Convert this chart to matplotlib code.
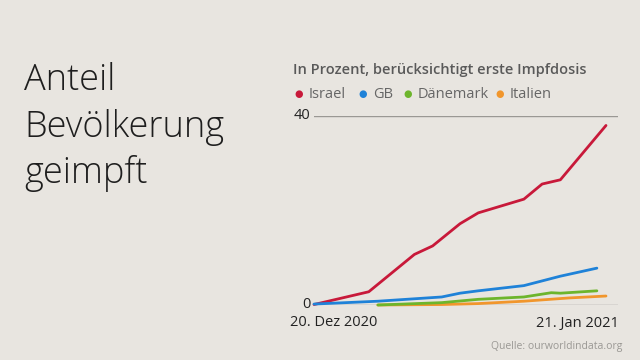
import matplotlib
matplotlib.use("Agg")
import matplotlib.pyplot as plt

# Days since 20 Dec 2020
israel_days = [0, 6, 11, 13, 16, 18, 23, 25, 27, 32]
israel_vals = [0.1, 2.8, 10.7, 12.5, 17.2, 19.5, 22.4, 25.6, 26.5, 38.0]

gb_days = [0, 7, 14, 16, 18, 23, 27, 31]
gb_vals = [0.2, 0.8, 1.7, 2.5, 3.0, 4.1, 6.1, 7.8]

dk_days = [7, 14, 18, 23, 26, 27, 31]
dk_vals = [0.0, 0.5, 1.2, 1.7, 2.6, 2.5, 3.0]

it_days = [7, 14, 18, 23, 28, 32]
it_vals = [0.0, 0.1, 0.3, 0.8, 1.5, 1.9]

series_names = ["Israel", "GB", "Dänemark", "Italien"]
series_colors = ["#c8193a", "#1f82d8", "#6db52c", "#f1962c"]

yticks = [0, 40]
x_labels = ["20. Dez 2020", "21. Jan 2021"]

BG = "#e8e5e0"
plt.rcParams["font.family"] = ["Open Sans", "DejaVu Sans"]

fig = plt.figure(figsize=(6.4, 3.6), dpi=100, facecolor=BG)

# Axes placement in pixels
px_left, px_right = 314, 618
px_y0, px_y40 = 305, 116
ax = fig.add_axes([px_left / 640, (360 - px_y0) / 360,
                   (px_right - px_left) / 640, (px_y0 - px_y40) / 360])
ax.set_facecolor(BG)
ax.set_xlim(0, (px_right - px_left) / 9.125)
ax.set_ylim(0, 40)
for s in ax.spines.values():
    s.set_visible(False)
ax.set_xticks([])
ax.set_yticks([])

for yv in yticks:
    ax.axhline(yv, color="#9a9894", lw=1.0, zorder=1)
    ax.text(-0.012, yv, str(yv), transform=ax.get_yaxis_transform(),
            ha="right", va="center", fontsize=10.5, color="#222222")

data = [(israel_days, israel_vals), (gb_days, gb_vals),
        (dk_days, dk_vals), (it_days, it_vals)]
zorders = [3, 4, 3, 2]
for (d, v), c, z in zip(data, series_colors, zorders):
    ax.plot(d, v, color=c, lw=2.0, solid_capstyle="round",
            solid_joinstyle="round", clip_on=False, zorder=z)

# x labels
fig.text(290 / 640, 1 - 323 / 360, x_labels[0], ha="left", va="center",
         fontsize=10.5, color="#222222")
fig.text(619 / 640, 1 - 323 / 360, x_labels[1], ha="right", va="center",
         fontsize=10.5, color="#222222")

# Title
fig.text(24 / 640, 1 - 127 / 360, "Anteil\nBevölkerung\ngeimpft",
         ha="left", va="center", fontsize=26, fontweight="light",
         color="#1e1e1e", linespacing=1.33)

# Subtitle
fig.text(293 / 640, 1 - 70 / 360, "In Prozent, berücksichtigt erste Impfdosis",
         ha="left", va="center", fontsize=10.5, fontweight="semibold",
         color="#595959")

# Legend
legend_x = [299, 363, 408, 500]
for lx, name, c in zip(legend_x, series_names, series_colors):
    fig.text(lx / 640, 1 - 94 / 360, "●", ha="center", va="center",
             fontsize=7, color=c, family="DejaVu Sans")
    fig.text((lx + 10) / 640, 1 - 94 / 360, name, ha="left", va="center",
             fontsize=10.5, color="#666666")

# Source
fig.text(622 / 640, 1 - 346 / 360, "Quelle: ourworldindata.org", ha="right",
         va="center", fontsize=7.5, color="#9a9894")

fig.savefig("out.png", dpi=100, facecolor=BG)
